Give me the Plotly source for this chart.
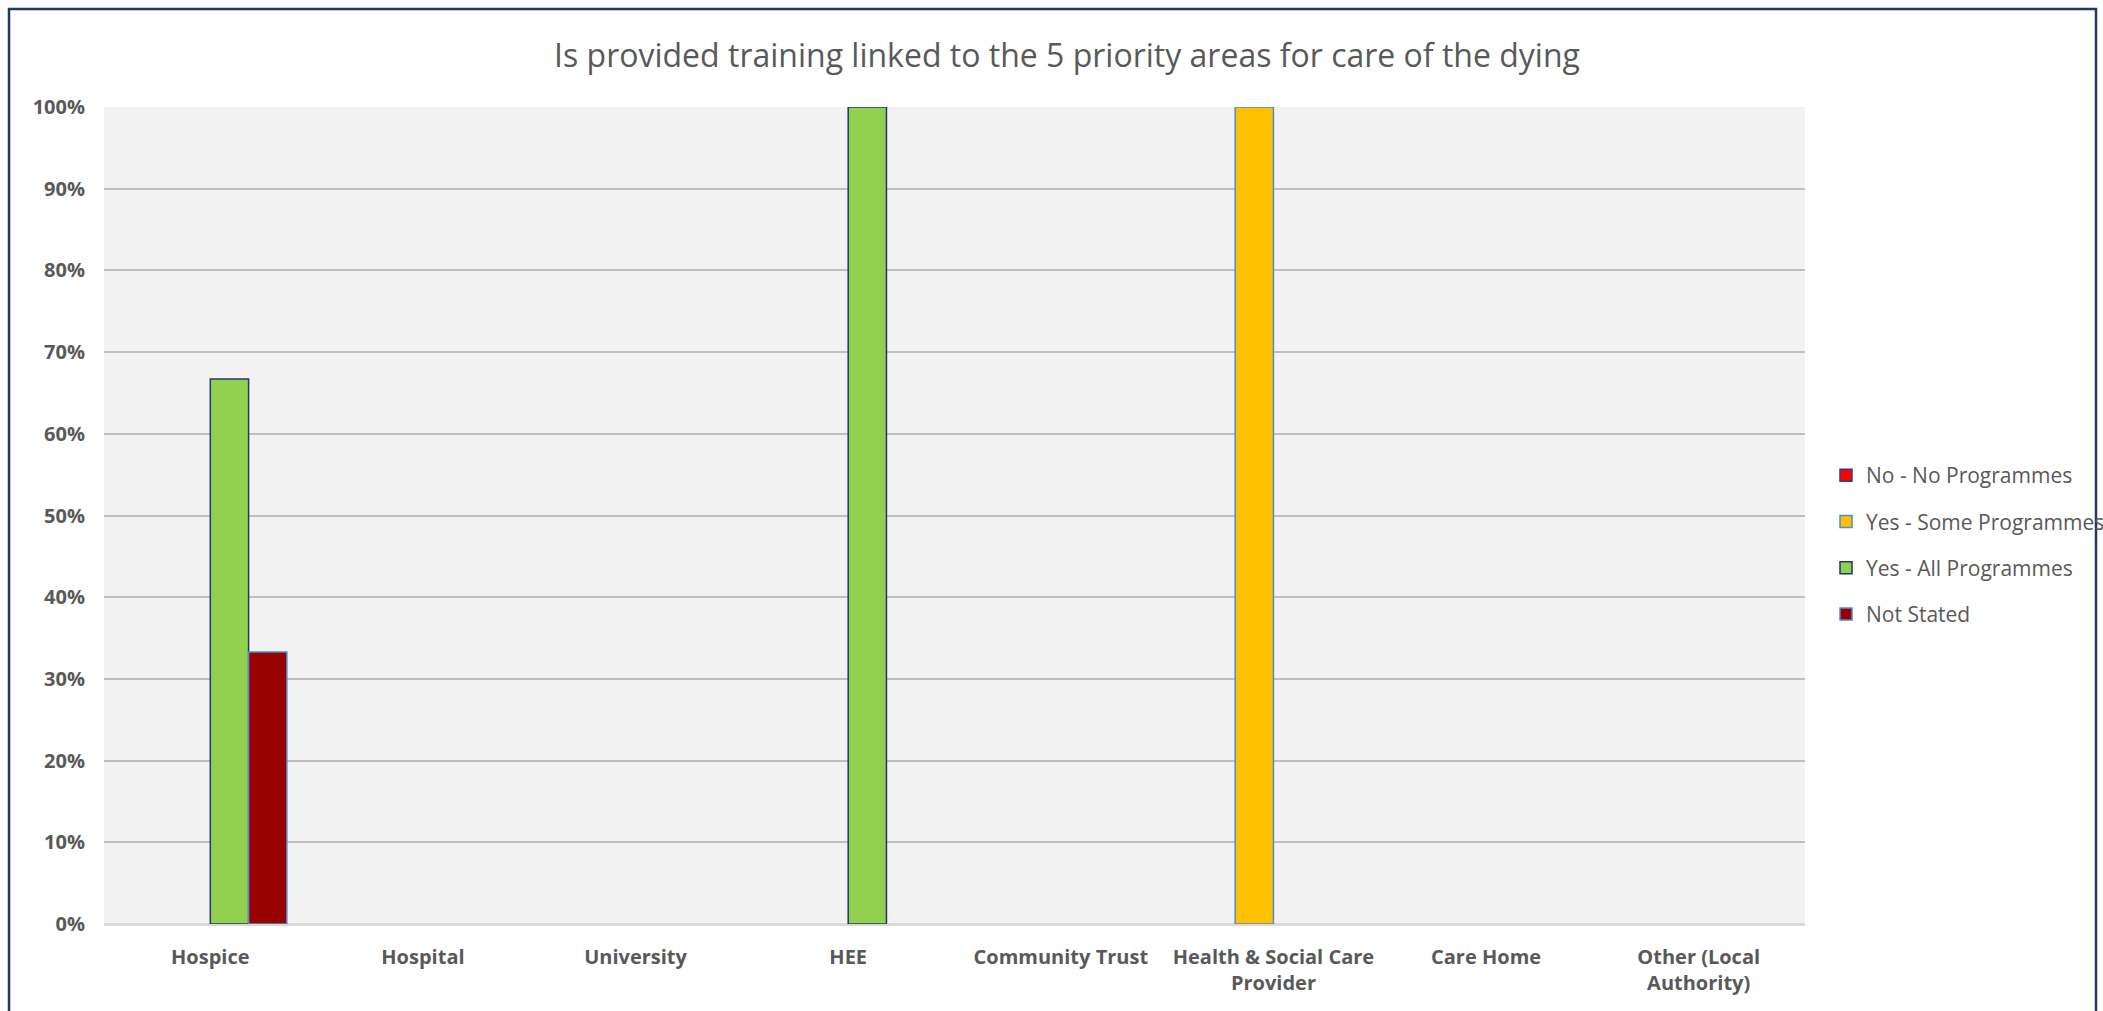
import plotly.graph_objects as go

categories = ["Hospice", "Hospital", "University", "HEE", "Community Trust",
              "Health & Social Care<br>Provider", "Care Home", "Other (Local<br>Authority)"]
series_names = ["No - No Programmes", "Yes - Some Programmes", "Yes - All Programmes", "Not Stated"]
no_programmes = [0, 0, 0, 0, 0, 0, 0, 0]
some_programmes = [0, 0, 0, 0, 0, 1.0, 0, 0]
all_programmes = [0.667, 0, 0, 1.0, 0, 0, 0, 0]
not_stated = [0.333, 0, 0, 0, 0, 0, 0, 0]
y_ticks = [0, 0.1, 0.2, 0.3, 0.4, 0.5, 0.6, 0.7, 0.8, 0.9, 1.0]

fill_colors = ["#FF0000", "#FFC000", "#92D050", "#990000"]
line_colors = ["#2F3F8F", "#4A8FD0", "#1F3864", "#4A8FD0"]
values = [no_programmes, some_programmes, all_programmes, not_stated]

W, H = 2103, 1011
L, R, T, B = 104, 298, 107, 87
pw = W - L - R
ph = H - T - B

fig = go.Figure()
for name, vals, fc, lc in zip(series_names, values, fill_colors, line_colors):
    fig.add_trace(go.Bar(
        x=categories, y=[v if v > 0 else None for v in vals], name=name,
        marker=dict(color=fc, line=dict(color=lc, width=1.5)),
        legendgroup=name,
    ))

def px2x(p):
    return (p - L) / pw

def px2y(p):
    return (H - B - p) / ph

fig.add_shape(type="rect", xref="paper", yref="paper",
              x0=px2x(9), x1=px2x(2096), y0=px2y(9), y1=px2y(1030),
              line=dict(color="#203864", width=2.5), fillcolor="rgba(0,0,0,0)", layer="above")

fig.update_layout(
    width=W, height=H,
    margin=dict(l=L, r=R, t=T, b=B, autoexpand=False),
    paper_bgcolor="white",
    plot_bgcolor="#F2F2F2",
    barmode="group",
    bargap=0.28,
    bargroupgap=0,
    title=dict(text="Is provided training linked to the 5 priority areas for care of the dying",
               x=1067 / W, xanchor="center", y=1 - 56 / H, yanchor="middle",
               font=dict(family="Open Sans", size=32, color="#595959")),
    legend=dict(xref="container", yref="container",
                x=1826 / W, xanchor="left", y=1 - 545 / H, yanchor="middle",
                font=dict(family="Open Sans", size=21, color="#595959"),
                traceorder="grouped", tracegroupgap=16, bgcolor="rgba(0,0,0,0)",
                itemwidth=30),
    xaxis=dict(showgrid=False, ticks="", showline=False,
               tickfont=dict(family="Open Sans", size=20, color="#595959", weight="bold"),
               ticklabelstandoff=19),
    yaxis=dict(range=[0, 1.0], tickvals=y_ticks, tickformat=".0%",
               gridcolor="#BFBFBF", gridwidth=1.5,
               zeroline=True, zerolinecolor="#D9D9D9", zerolinewidth=3,
               ticks="", showline=False, ticklabelstandoff=18,
               tickfont=dict(family="Open Sans", size=20, color="#595959", weight="bold")),
    showlegend=True,
)

fig.write_html("out.html", config={"displayModeBar": False},
               post_script="document.body.style.margin='0';")
